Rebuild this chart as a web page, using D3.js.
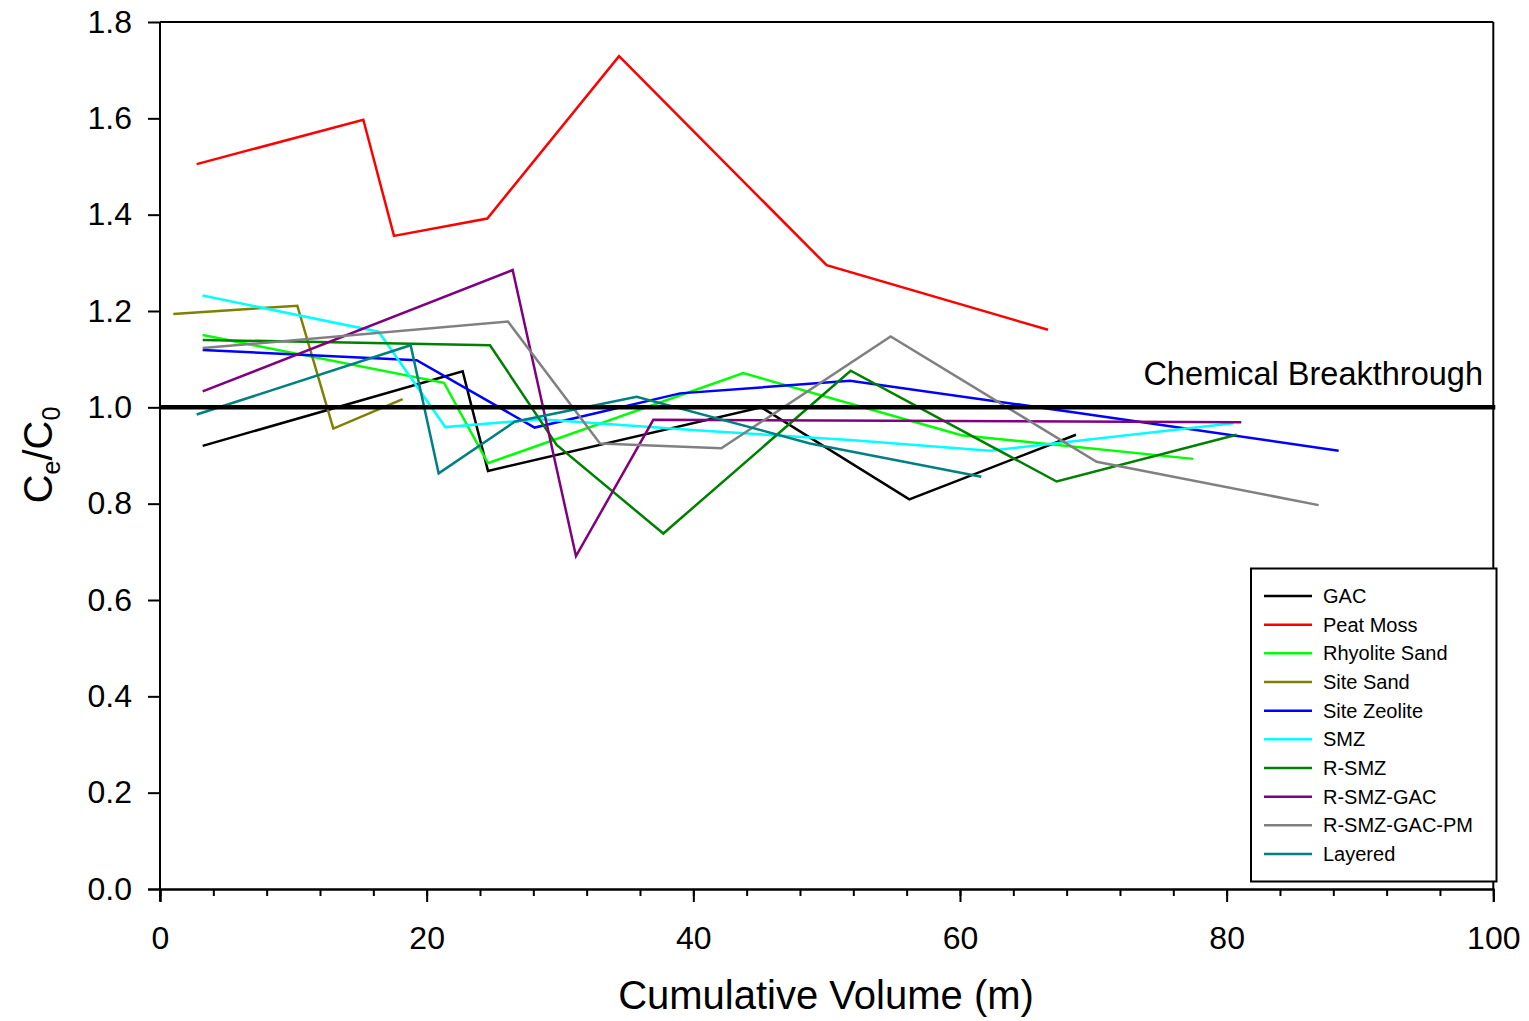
<!DOCTYPE html>
<html><head><meta charset="utf-8">
<script src="https://cdn.jsdelivr.net/npm/d3@7"></script>
<style>body{margin:0;background:#fff;} svg{display:block;font-family:"Liberation Sans",Arial,sans-serif;}</style>
</head><body><svg id="c" width="1529" height="1021"></svg>
<script>
const seriesNames = ["GAC","Peat Moss","Rhyolite Sand","Site Sand","Site Zeolite","SMZ","R-SMZ","R-SMZ-GAC","R-SMZ-GAC-PM","Layered"];
const seriesColors = ["#000000","#ff0000","#00ff00","#808000","#0000ff","#00ffff","#008000","#800080","#808080","#008080"];
const gacX = [3.2,22.7,24.6,45.1,56.2,68.7];
const gacY = [0.920,1.075,0.868,1.000,0.809,0.943];
const peatX = [2.75,15.25,17.55,24.55,34.43,50.0,66.6];
const peatY = [1.505,1.597,1.356,1.392,1.729,1.295,1.161];
const rhyoX = [3.2,21.3,24.6,43.75,60.1,77.5];
const rhyoY = [1.150,1.051,0.884,1.071,0.942,0.893];
const siteSandX = [1.0,10.3,13.0,18.2];
const siteSandY = [1.194,1.211,0.956,1.017];
const zeoX = [3.2,19.25,28.1,39.0,51.75,68.5,88.4];
const zeoY = [1.119,1.098,0.958,1.029,1.055,0.990,0.910];
const smzX = [3.2,16.4,21.4,28.5,40.5,51.75,62.25,80.5];
const smzY = [1.232,1.157,0.959,0.975,0.952,0.932,0.910,0.967];
const rsmzX = [3.2,24.75,29.75,37.75,51.8,67.25,80.75];
const rsmzY = [1.140,1.129,0.922,0.738,1.076,0.846,0.943];
const rgacX = [3.2,26.45,31.2,37.0,81.1];
const rgacY = [1.033,1.285,0.691,0.974,0.969];
const rpmX = [3.2,26.1,33.0,42.1,54.8,70.25,86.9];
const rpmY = [1.123,1.178,0.925,0.915,1.147,0.887,0.797];
const layX = [2.75,18.8,20.9,26.6,35.75,48.75,61.6];
const layY = [0.985,1.129,0.863,0.970,1.022,0.925,0.856];
const xTicks = [0,20,40,60,80,100];
const xMinor = d3.range(0,101,4);
const yTicks = [0.0,0.2,0.4,0.6,0.8,1.0,1.2,1.4,1.6,1.8];
const breakthrough = 1.0;

const allX = [gacX,peatX,rhyoX,siteSandX,zeoX,smzX,rsmzX,rgacX,rpmX,layX];
const allY = [gacY,peatY,rhyoY,siteSandY,zeoY,smzY,rsmzY,rgacY,rpmY,layY];

const svg = d3.select("#c");
const L=160,R=1493.3,T=22,B=889;
const x = d3.scaleLinear().domain([0,100]).range([L,R]);
const y = d3.scaleLinear().domain([0,1.8]).range([B,T]);

// frame top/right
svg.append("line").attr("x1",L).attr("x2",R).attr("y1",T).attr("y2",T).attr("stroke","#000").attr("stroke-width",2);
svg.append("line").attr("x1",R).attr("x2",R).attr("y1",T).attr("y2",B).attr("stroke","#000").attr("stroke-width",2);

// data lines
const line = d3.line().x(d=>x(d[0])).y(d=>y(d[1]));
seriesNames.forEach((n,i)=>{
  const pts = allX[i].map((v,j)=>[v,allY[i][j]]);
  svg.append("path").datum(pts).attr("d",line).attr("fill","none")
    .attr("stroke",seriesColors[i]).attr("stroke-width",2.5).attr("stroke-linejoin","miter");
});

// breakthrough line
svg.append("line").attr("x1",x(0)).attr("x2",x(100)+2).attr("y1",y(breakthrough)).attr("y2",y(breakthrough))
  .attr("stroke","#000").attr("stroke-width",4.5);
svg.append("text").attr("x",1483).attr("y",385).attr("text-anchor","end")
  .attr("font-size",32.5).text("Chemical Breakthrough");

// x axis
const xa = svg.append("g").attr("transform",`translate(0,${B})`);
xa.call(d3.axisBottom(x).tickValues(xMinor).tickSize(7).tickFormat(""));
xa.append("g").call(d3.axisBottom(x).tickValues(xTicks).tickSize(13).tickFormat(d3.format("d")).tickPadding(24));
xa.selectAll(".domain").attr("stroke-width",2);
xa.selectAll(".domain").filter((d,i)=>i===0).attr("d",`M${L-12},0.5H${R}`);
xa.selectAll("line").attr("stroke-width",2);
xa.selectAll("text").attr("font-size",32).attr("font-family","Liberation Sans, Arial, sans-serif").attr("fill","#000");

// y axis
const ya = svg.append("g").attr("transform",`translate(${L},0)`);
ya.call(d3.axisLeft(y).tickValues(yTicks).tickSize(12).tickPadding(16).tickFormat(d3.format(".1f")));
ya.selectAll(".domain").attr("stroke-width",2).attr("d",`M0,${T}V${B+12}`);
ya.selectAll("line").attr("stroke-width",2);
ya.selectAll("text").attr("font-size",32).attr("font-family","Liberation Sans, Arial, sans-serif").attr("fill","#000");

// axis titles
svg.append("text").attr("x",826).attr("y",1009).attr("text-anchor","middle").attr("font-size",40).text("Cumulative Volume (m)");
const yt = svg.append("text").attr("transform","translate(52,455) rotate(-90)").attr("text-anchor","middle").attr("font-size",40);
yt.append("tspan").text("C");
yt.append("tspan").attr("font-size",25).attr("dy",8).text("e");
yt.append("tspan").attr("dy",-8).text("/C");
yt.append("tspan").attr("font-size",25).attr("dy",8).text("0");

// legend
const lg = svg.append("g");
lg.append("rect").attr("x",1251).attr("y",568.5).attr("width",245.5).attr("height",313)
  .attr("fill","#fff").attr("stroke","#000").attr("stroke-width",2);
seriesNames.forEach((n,i)=>{
  const yy = 596 + i*28.67;
  lg.append("line").attr("x1",1264).attr("x2",1312).attr("y1",yy).attr("y2",yy)
    .attr("stroke",seriesColors[i]).attr("stroke-width",2.5);
  lg.append("text").attr("x",1323).attr("y",yy+7).attr("font-size",20).text(n);
});
</script></body></html>
